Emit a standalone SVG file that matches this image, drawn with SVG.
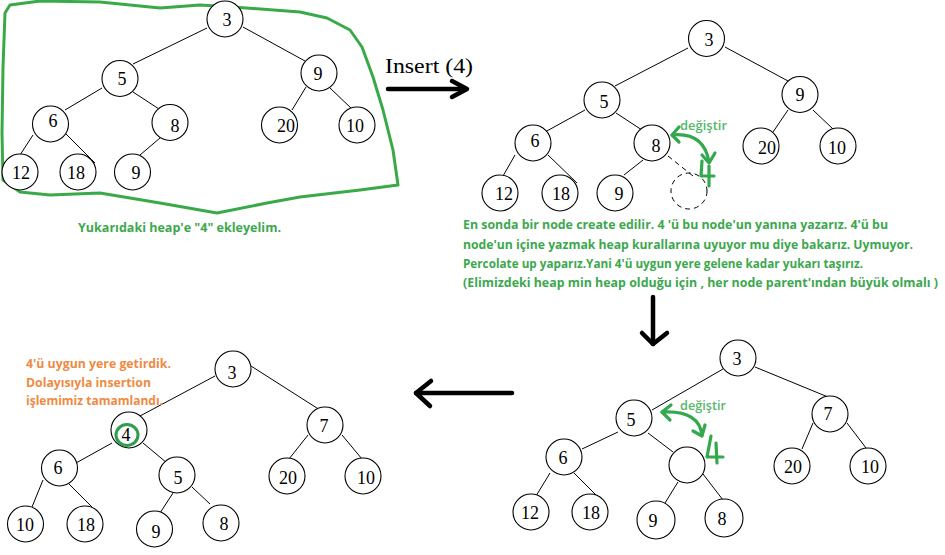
<svg xmlns="http://www.w3.org/2000/svg" width="945" height="555" viewBox="0 0 945 555">
<style>
.n circle{fill:#fff;stroke:#000;stroke-width:1.1}
.n text{font-family:"Liberation Serif","Times New Roman",serif;font-size:18px;text-anchor:middle;fill:#000}
.e line{stroke:#000;stroke-width:1}
.dash{fill:none;stroke:#000;stroke-width:1;stroke-dasharray:5 4}
.cap{font-family:"Open Sans","Noto Sans","Liberation Sans",sans-serif;font-weight:700;font-size:12px;fill:#3ca84e}
.org{font-family:"Open Sans","Noto Sans","Liberation Sans",sans-serif;font-weight:700;font-size:12.5px;fill:#f08a43}
.dg{font-family:"Open Sans","Noto Sans","Liberation Sans",sans-serif;font-weight:600;font-size:12px;fill:#55b86a}
.gs{fill:none;stroke:#33a84c;stroke-width:3.2;stroke-linecap:round;stroke-linejoin:round}
.blk{fill:none;stroke:#000;stroke-width:4.5;stroke-linecap:round;stroke-linejoin:round}
</style>
<rect width="945" height="555" fill="#fff"/>

<!-- green hand-drawn border -->
<path id="border" d="M10,5 L40,1 L100,2 L160,8 L200,5 L233,7 L300,12 L327,18 L350,30 L362,47 L373,77 L383,110 L393,150 L398,185 L360,190 L300,197 L267,203 L217,213 L160,203 L100,193 L50,195 L20,192 L3,180 L2,133 L3,67 L5,13 Z" fill="none" stroke="#3aa948" stroke-width="3" stroke-linejoin="round"/>

<!-- connectors -->
<g id="connectors" class="e">
  <!-- tree 1 -->
  <line x1="207" y1="28" x2="133" y2="64"/>
  <line x1="243" y1="27" x2="305" y2="61"/>
  <line x1="102" y1="88" x2="65" y2="110"/>
  <line x1="133" y1="92" x2="159" y2="109"/>
  <line x1="33" y1="135" x2="20" y2="155"/>
  <line x1="65" y1="133" x2="95" y2="163"/>
  <line x1="160" y1="138" x2="140" y2="155"/>
  <line x1="306" y1="87" x2="292" y2="110"/>
  <line x1="330" y1="88" x2="352" y2="109"/>
  <!-- tree 2 -->
  <line x1="688" y1="48" x2="615" y2="86"/>
  <line x1="725" y1="47" x2="788" y2="81"/>
  <line x1="585" y1="110" x2="545" y2="132"/>
  <line x1="616" y1="113" x2="642" y2="130"/>
  <line x1="515" y1="155" x2="503" y2="176"/>
  <line x1="548" y1="155" x2="577" y2="183"/>
  <line x1="643" y1="160" x2="624" y2="175"/>
  <line x1="668" y1="156" x2="693" y2="176" stroke-dasharray="5 4"/>
  <line x1="788" y1="110" x2="773" y2="132"/>
  <line x1="813" y1="110" x2="833" y2="129"/>
  <!-- tree 3 -->
  <line x1="723" y1="369" x2="652" y2="410"/>
  <line x1="755" y1="367" x2="828" y2="397"/>
  <line x1="618" y1="432" x2="582" y2="449"/>
  <line x1="648" y1="433" x2="673" y2="452"/>
  <line x1="550" y1="473" x2="536" y2="496"/>
  <line x1="574" y1="473" x2="597" y2="496"/>
  <line x1="678" y1="482" x2="665" y2="503"/>
  <line x1="703" y1="474" x2="723" y2="500"/>
  <line x1="813" y1="423" x2="802" y2="449"/>
  <line x1="847" y1="423" x2="866" y2="448"/>
  <!-- tree 4 -->
  <line x1="215" y1="376" x2="140" y2="416"/>
  <line x1="251" y1="366" x2="320" y2="410"/>
  <line x1="112" y1="443" x2="76" y2="463"/>
  <line x1="143" y1="443" x2="167" y2="463"/>
  <line x1="43" y1="480" x2="32" y2="507"/>
  <line x1="68" y1="483" x2="92" y2="507"/>
  <line x1="173" y1="493" x2="160" y2="513"/>
  <line x1="192" y1="487" x2="210" y2="504"/>
  <line x1="308" y1="435" x2="289" y2="459"/>
  <line x1="342" y1="435" x2="362" y2="459"/>
</g>

<!-- tree 1 nodes -->
<g id="t1-3" class="n"><circle cx="225" cy="19" r="18"/><text x="227" y="26">3</text></g>
<g id="t1-5" class="n"><circle cx="120" cy="78.5" r="18"/><text x="122" y="85">5</text></g>
<g id="t1-9" class="n"><circle cx="319" cy="73" r="18"/><text x="318" y="80">9</text></g>
<g id="t1-6" class="n"><circle cx="50.5" cy="124" r="18"/><text x="53" y="127">6</text></g>
<g id="t1-8" class="n"><circle cx="170" cy="122.5" r="18"/><text x="175" y="132">8</text></g>
<g id="t1-20" class="n"><circle cx="279.5" cy="125" r="18"/><text x="286" y="132">20</text></g>
<g id="t1-10" class="n"><circle cx="357" cy="125" r="18"/><text x="355" y="132">10</text></g>
<g id="t1-12" class="n"><circle cx="20" cy="172" r="18"/><text x="21" y="179">12</text></g>
<g id="t1-18" class="n"><circle cx="78" cy="172" r="18"/><text x="76" y="179">18</text></g>
<g id="t1-9b" class="n"><circle cx="132.5" cy="172" r="18"/><text x="136" y="179">9</text></g>

<text id="cap1" class="cap" x="78" y="232" textLength="203" lengthAdjust="spacingAndGlyphs">Yukarıdaki heap'e "4" ekleyelim.</text>

<!-- insert arrow -->
<g id="insert">
  <text x="385" y="73" font-family="'Liberation Serif','Times New Roman',serif" font-size="21" textLength="88" lengthAdjust="spacingAndGlyphs">Insert (4)</text>
  <line class="blk" x1="388" y1="89" x2="466" y2="89"/>
  <polyline class="blk" points="452,81 467,89 452,97"/>
</g>

<!-- tree 2 nodes -->
<g id="t2-3" class="n"><circle cx="706.5" cy="38.5" r="18"/><text x="709" y="46">3</text></g>
<g id="t2-5" class="n"><circle cx="602" cy="100" r="18"/><text x="604" y="108">5</text></g>
<g id="t2-9" class="n"><circle cx="800" cy="94.5" r="18"/><text x="800" y="101">9</text></g>
<g id="t2-6" class="n"><circle cx="533" cy="143" r="18"/><text x="535" y="147">6</text></g>
<g id="t2-8" class="n"><circle cx="652" cy="143" r="18"/><text x="656" y="152">8</text></g>
<g id="t2-20" class="n"><circle cx="761" cy="146" r="18"/><text x="767" y="154">20</text></g>
<g id="t2-10" class="n"><circle cx="838" cy="146" r="18"/><text x="837" y="154">10</text></g>
<g id="t2-12" class="n"><circle cx="500" cy="193" r="18"/><text x="504" y="200">12</text></g>
<g id="t2-18" class="n"><circle cx="560" cy="193" r="18"/><text x="561" y="200">18</text></g>
<g id="t2-9b" class="n"><circle cx="615" cy="193" r="18"/><text x="619" y="200">9</text></g>
<g id="t2-new"><circle class="dash" cx="689" cy="191" r="18"/></g>

<g id="swap1">
  <text class="dg" x="680" y="130" textLength="47" lengthAdjust="spacingAndGlyphs">değiştir</text>
  <path class="gs" d="M672,135 Q704,132 709,162"/>
  <polyline class="gs" points="679,127 672,135 679,142"/>
  <polyline class="gs" points="702,155 709,163 715,153"/>
  <polyline class="gs" points="702,161 701,176 714,176"/>
  <line class="gs" x1="709" y1="166" x2="709" y2="186"/>
</g>

<g id="desc">
  <text class="cap" x="463" y="229" textLength="425" lengthAdjust="spacingAndGlyphs">En sonda bir node create edilir. 4 'ü bu node'un yanına yazarız. 4'ü bu</text>
  <text class="cap" x="463" y="249" textLength="450" lengthAdjust="spacingAndGlyphs">node'un içine yazmak heap kurallarına uyuyor mu diye bakarız. Uymuyor.</text>
  <text class="cap" x="463" y="268" textLength="400" lengthAdjust="spacingAndGlyphs">Percolate up yaparız.Yani 4'ü uygun yere gelene kadar yukarı taşırız.</text>
  <text class="cap" x="463" y="287" textLength="475" lengthAdjust="spacingAndGlyphs">(Elimizdeki heap min heap olduğu için , her node parent'ından büyük olmalı )</text>
</g>

<!-- down arrow -->
<g id="down-arrow">
  <line class="blk" x1="653" y1="297" x2="653" y2="344"/>
  <polyline class="blk" points="642,333 653,344 667,333"/>
</g>

<!-- tree 3 nodes -->
<g id="t3-3" class="n"><circle cx="738" cy="358" r="18"/><text x="737" y="365">3</text></g>
<g id="t3-5" class="n"><circle cx="634" cy="418" r="18"/><text x="631" y="426">5</text></g>
<g id="t3-7" class="n"><circle cx="830" cy="414" r="18"/><text x="828" y="420">7</text></g>
<g id="t3-6" class="n"><circle cx="564" cy="457" r="18"/><text x="563" y="464">6</text></g>
<g id="t3-empty" class="n"><circle cx="687" cy="465" r="18"/></g>
<g id="t3-20" class="n"><circle cx="792" cy="466" r="18"/><text x="793" y="473">20</text></g>
<g id="t3-10" class="n"><circle cx="868" cy="466" r="18"/><text x="870" y="473">10</text></g>
<g id="t3-12" class="n"><circle cx="531" cy="512" r="18"/><text x="530" y="519">12</text></g>
<g id="t3-18" class="n"><circle cx="590" cy="512" r="18"/><text x="591" y="519">18</text></g>
<g id="t3-9" class="n"><circle cx="656" cy="520" r="19"/><text x="653" y="527">9</text></g>
<g id="t3-8" class="n"><circle cx="724" cy="518" r="19"/><text x="722" y="525">8</text></g>

<g id="swap2">
  <text class="dg" x="680" y="410" textLength="46" lengthAdjust="spacingAndGlyphs">değiştir</text>
  <path class="gs" d="M662,412 Q699,410 702,435"/>
  <polyline class="gs" points="671,405 662,412 670,420"/>
  <polyline class="gs" points="693,431 702,436 705,425"/>
  <polyline class="gs" points="711,436 707,457 723,457"/>
  <line class="gs" x1="716" y1="443" x2="717" y2="463"/>
</g>

<!-- left arrow -->
<g id="left-arrow">
  <line class="blk" x1="512" y1="393" x2="416" y2="393"/>
  <polyline class="blk" points="431,381 416,393 430,406"/>
</g>

<g id="done">
  <text class="org" x="26" y="368" textLength="145" lengthAdjust="spacingAndGlyphs">4'ü uygun yere getirdik.</text>
  <text class="org" x="26" y="387" textLength="125" lengthAdjust="spacingAndGlyphs">Dolayısıyla insertion</text>
  <text class="org" x="26" y="405" textLength="137" lengthAdjust="spacingAndGlyphs">işlemimiz tamamlandı.</text>
</g>

<!-- tree 4 nodes -->
<g id="t4-3" class="n"><circle cx="233" cy="369" r="18"/><text x="232" y="379">3</text></g>
<g id="t4-4" class="n"><circle cx="129" cy="430" r="18"/><ellipse cx="127" cy="435" rx="11" ry="10.5" fill="none" stroke="#2f9e4e" stroke-width="3"/><text x="126" y="441">4</text></g>
<g id="t4-7" class="n"><circle cx="325" cy="425" r="18"/><text x="324" y="432">7</text></g>
<g id="t4-6" class="n"><circle cx="59.5" cy="468" r="18"/><text x="58" y="474">6</text></g>
<g id="t4-5" class="n"><circle cx="177" cy="475" r="18"/><text x="178" y="484">5</text></g>
<g id="t4-20" class="n"><circle cx="287" cy="476" r="18"/><text x="288" y="484">20</text></g>
<g id="t4-10" class="n"><circle cx="363" cy="476" r="18"/><text x="366" y="484">10</text></g>
<g id="t4-10b" class="n"><circle cx="25.5" cy="524" r="18"/><text x="25" y="531">10</text></g>
<g id="t4-18" class="n"><circle cx="85" cy="524" r="18"/><text x="86" y="531">18</text></g>
<g id="t4-9" class="n"><circle cx="154.5" cy="529" r="18"/><text x="156" y="538">9</text></g>
<g id="t4-8" class="n"><circle cx="221" cy="523" r="18"/><text x="224" y="530">8</text></g>
</svg>
